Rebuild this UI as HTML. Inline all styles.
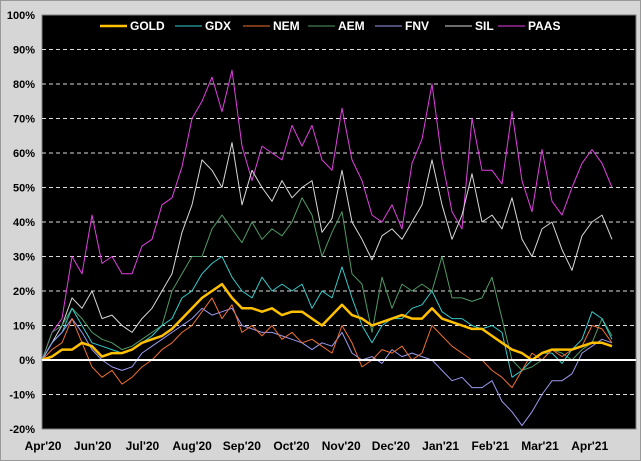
<!DOCTYPE html>
<html><head><meta charset="utf-8"><style>
body{margin:0;background:#d6d6d6;}
svg{display:block;font-family:"Liberation Sans",Arial,sans-serif;font-weight:bold;}
</style></head><body>
<svg id="chart" width="641" height="461" viewBox="0 0 641 461">
<rect x="0.5" y="0.5" width="640" height="460" fill="#d6d6d6" stroke="#999"/>
<rect x="42" y="15" width="594" height="414" fill="#000" stroke="#808080"/>
<g id="grid"></g>
<g id="yaxis"></g>
<g id="xaxis"></g>
<g id="series"></g>
<g id="legend"></g>
</svg>
<script>
const xLabels=["Apr'20","Jun'20","Jul'20","Aug'20","Sep'20","Oct'20","Nov'20","Dec'20","Jan'21","Feb'21","Mar'21","Apr'21"];
const yTicks=[-20,-10,0,10,20,30,40,50,60,70,80,90,100];
const seriesNames=["GOLD","GDX","NEM","AEM","FNV","SIL","PAAS"];
const gold=[0,1,3,3,5,4,1,2,2,3,5,6,7,9,12,15,18,20,22,18,15,15,14,15,13,14,14,12,10,13,16,13,12,10,11,12,13,12,12,15,12,11,10,9,9,7,5,3,2,0,2,3,3,3,4,5,5,4];
const gdx=[0,5,8,15,10,5,4,3,2,3,5,7,10,12,18,20,25,28,30,24,20,18,24,20,22,20,22,15,20,18,27,18,10,5,10,12,12,15,16,20,14,12,12,10,9,10,8,-5,-3,0,2,2,-1,3,6,14,12,6];
const nem=[0,3,5,12,5,-2,-5,-3,-7,-5,-2,0,3,5,8,10,14,18,12,16,8,10,7,10,6,8,5,6,4,2,10,5,-2,0,3,2,4,0,2,10,7,4,2,0,0,-3,-5,-8,-3,2,0,3,1,3,4,10,9,5];
const aem=[0,8,10,15,12,8,6,5,3,4,6,8,10,20,25,30,30,38,42,38,34,40,35,38,36,40,47,42,30,37,43,25,22,8,24,15,22,20,22,20,30,18,18,17,18,24,12,0,-3,-2,0,3,2,0,3,5,12,7];
const fnv=[0,5,8,12,8,3,0,-2,-3,-2,2,4,6,8,10,12,15,13,14,15,10,9,8,8,7,6,5,3,5,4,8,2,0,1,-1,3,1,2,1,0,-3,-6,-5,-8,-8,-6,-12,-15,-19,-15,-10,-6,-6,-4,2,4,6,5];
const sil=[0,5,10,18,15,20,12,13,10,8,12,15,20,25,37,45,58,55,50,63,45,55,50,46,52,47,50,52,37,41,55,40,35,29,36,38,35,40,45,58,45,35,42,54,40,42,38,47,35,30,38,40,32,26,36,40,42,35];
const paas=[0,8,12,30,25,42,28,30,25,25,33,35,45,47,56,70,75,82,72,84,62,52,62,60,58,68,62,68,58,55,73,58,52,42,40,45,38,57,64,80,58,43,38,70,55,55,51,72,52,43,61,46,42,50,57,61,57,50];

const NS="http://www.w3.org/2000/svg";
function el(t,a,p){const e=document.createElementNS(NS,t);for(const k in a)e.setAttribute(k,a[k]);p.appendChild(e);return e;}
const yScale=v=>360-v*3.45;
const xScale=i=>42+i*(570/(gold.length-1));
const xLab=i=>43+i*49.7;
const grid=document.getElementById('grid'),yax=document.getElementById('yaxis'),xax=document.getElementById('xaxis');
yTicks.forEach(v=>{
  const y=yScale(v);
  if(v!==0&&v!==-20&&v!==100){
    const l=el('line',{x1:42,x2:636,y1:y,y2:y,stroke:'#ddd','stroke-width':1,'stroke-dasharray':'4,3'},grid);
    
    
  }
  const t=el('text',{x:35,y:y+4,'text-anchor':'end','font-size':11,fill:'#000'},yax);
  t.textContent=v+'%';
  
  
});
xLabels.forEach((s,i)=>{
  const t=el('text',{x:xLab(i),y:450,'text-anchor':'middle','font-size':12,fill:'#000'},xax);
  t.textContent=s;
  
  
});
const ser=document.getElementById('series');
const draw=[["PAAS",paas,"#e23fe2",1],["SIL",sil,"#d8d8d8",1],["AEM",aem,"#4f9a66",1],["GDX",gdx,"#33cccc",1],["FNV",fnv,"#9a9af0",1],["NEM",nem,"#f07030",1],["GOLD",gold,"#ffc000",2.5]];
const colors={};
draw.forEach(([n,d,c,w])=>{colors[n]=[c,w];
  const p=el('polyline',{points:d.map((v,i)=>xScale(i).toFixed(1)+','+yScale(v).toFixed(1)).join(' '),fill:'none',stroke:c,'stroke-width':w,'stroke-linejoin':'round'},ser);
  
  
});
const z=el('line',{x1:42,x2:636,y1:yScale(0),y2:yScale(0),stroke:'#fff','stroke-width':2},ser);


const leg=document.getElementById('legend');
const legX=[100,175,243,308,375,445,498];
seriesNames.forEach((n,i)=>{
  const g=el('g',{},leg);
  
  
  el('line',{x1:legX[i],x2:legX[i]+27,y1:26,y2:26,stroke:colors[n][0],'stroke-width':colors[n][1]},g);
  const t=el('text',{x:legX[i]+30,y:30,'font-size':12,fill:'#fff'},g);
  t.textContent=n;
});
</script>
</body></html>
